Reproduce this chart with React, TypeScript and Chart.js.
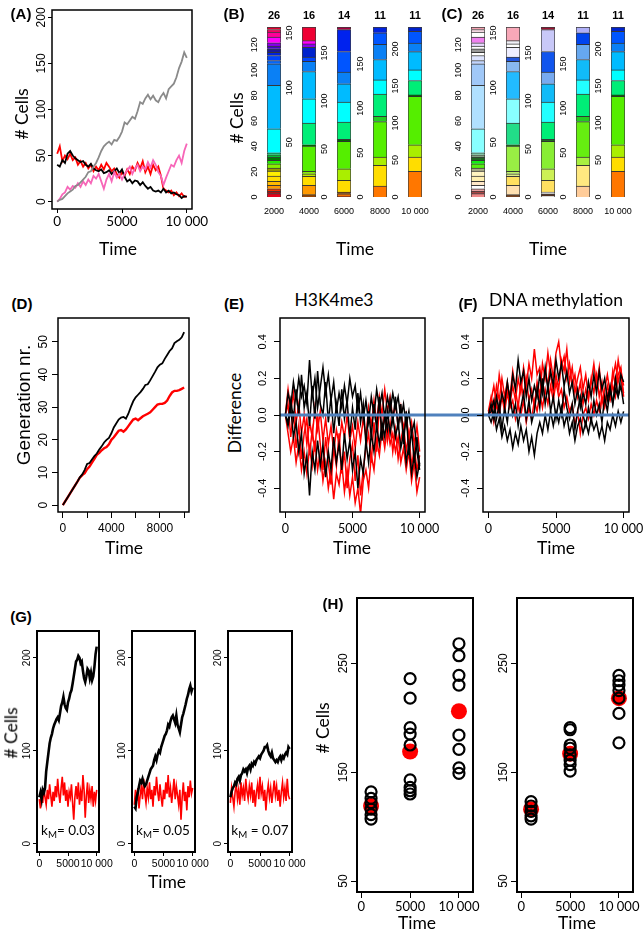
import React, { useEffect, useRef } from 'react';
import { Chart, registerables } from 'chart.js';
Chart.register(...registerables);

// ---------------- DATA ----------------
const TIME = [0, 200, 400, 600, 800, 1000, 1200, 1400, 1600, 1800,
  2000, 2200, 2400, 2600, 2800, 3000, 3200, 3400, 3600, 3800,
  4000, 4200, 4400, 4600, 4800, 5000, 5200, 5400, 5600, 5800,
  6000, 6200, 6400, 6600, 6800, 7000, 7200, 7400, 7600, 7800,
  8000, 8200, 8400, 8600, 8800, 9000, 9200, 9400, 9600, 9800,
  10000];

// (A) number of cells
const A_GRAY = [0, 2, 3, 6, 9, 11, 13, 17, 18, 21,
  24, 27, 32, 33, 38, 42, 48, 55, 60, 63,
  65, 62, 67, 66, 70, 76, 86, 84, 88, 92,
  90, 98, 108, 106, 112, 116, 111, 115, 110, 108,
  114, 118, 112, 122, 125, 128, 135, 145, 152, 162,
  156];
const A_PINK = [0, 3, 8, 10, 16, 13, 17, 15, 20, 16,
  22, 18, 24, 20, 28, 25, 30, 22, 14, 24,
  30, 22, 32, 26, 30, 24, 30, 34, 38, 30,
  36, 40, 33, 38, 35, 43, 37, 45, 40, 32,
  28, 18, 26, 33, 40, 38, 45, 50, 42, 55,
  63];
const A_BLACK = [40, 38, 45, 42, 52, 55, 50, 47, 45, 43,
  44, 40, 38, 41, 36, 34, 33, 35, 31, 32,
  34, 30, 33, 36, 31, 35, 27, 22, 24, 20,
  23, 22, 18, 21, 17, 14, 16, 12, 11, 12,
  10, 14, 10, 12, 9, 10, 8, 7, 4, 6,
  5];
const A_RED = [52, 60, 44, 50, 46, 52, 45, 48, 40, 44,
  38, 42, 36, 40, 33, 38, 34, 40, 35, 42,
  38, 33, 36, 30, 26, 32, 28, 35, 30, 38,
  34, 42, 36, 44, 32, 38, 30, 40, 34, 38,
  28, 14, 12, 10, 12, 7, 10, 6, 9, 5,
  6];

// (B)/(C) clone composition, bottom -> top
const BAR_TIMES = ['2000', '4000', '6000', '8000', '10 000'];
const BAR_COUNTS = ['26', '16', '14', '11', '11'];
const BAR1_VALS = [2.6, 2.1, 1.8, 2.7, 3.1, 4.2, 4.0, 2.3, 3.4, 2.7, 2.6, 1.8, 1.6, 18.9, 34.2, 17.0, 2.6, 3.9, 2.5, 2.8, 2.2, 2.5, 4.5, 4.0, 2.0, 2.0];
const BAR2_VALS = [2.1, 8.6, 8.2, 2.4, 2.2, 23.1, 1.2, 19.8, 22.2, 25.0, 9.2, 3.9, 9.1, 3.0, 3.0, 12.5];
const BAR3_VALS = [1, 2.4, 1.8, 12.1, 12.1, 28.5, 2.1, 18, 20.8, 19, 12.2, 21.5, 22.8, 2.7];
const BAR4_VALS = [12.4, 23.2, 9.4, 40, 5.8, 25.2, 16, 23, 17, 13, 6.6];
const BAR5_VALS = [34.7, 19.3, 16.6, 65.4, 2, 19.5, 14.3, 24.8, 11.4, 16, 5.8];
const BAR_YTICKS = [[0, 20, 40, 60, 80, 100, 120], [0, 50, 100, 150], [0, 50, 100, 150], [0, 50, 100, 150], [0, 50, 100, 150, 200]];

const B1_COLS = ['#e8001a', '#b01010', '#ff3300', '#ff9900', '#ffbb00', '#ffdd00', '#ffee00', '#999900', '#88ee00', '#22ee00', '#007700', '#00cc33', '#00e680', '#00ffff', '#00bbff', '#0a80f5', '#0066ff', '#0044ff', '#0022dd', '#1a1a99', '#4400cc', '#8800ee', '#ff00ff', '#ff0099', '#ff0066', '#e60033'];
const B2_COLS = ['#994400', '#ff9900', '#ffdd00', '#bbee00', '#88ee00', '#55ee00', '#006600', '#00ee77', '#00ffff', '#00bbff', '#0a80f5', '#0044ff', '#0022cc', '#8800ee', '#ff00ff', '#ee0033'];
const B3_COLS = ['#aa3300', '#ff7700', '#884400', '#ffdd00', '#aaee00', '#55ee00', '#006600', '#00ee77', '#00ffff', '#00bbff', '#0a80f5', '#0055ff', '#0022ee', '#aa0044'];
const B4_COLS = ['#ff7700', '#ffdd00', '#aaee00', '#55ee00', '#22cc22', '#00ee77', '#00ffff', '#00bbff', '#0a80f5', '#0055ff', '#0022dd'];
const B5_COLS = ['#ff7700', '#ffdd00', '#aaee00', '#55ee00', '#006600', '#00ee77', '#00ffff', '#00bbff', '#0a80f5', '#0055ff', '#0022cc'];

const C1_COLS = ['#f08888', '#aa4444', '#f4a8a8', '#ffffff', '#ffe8c8', '#fff0b0', '#fff4c0', '#aaaa88', '#55ee11', '#11ee11', '#226622', '#88aa88', '#88eebb', '#88ffff', '#b0e0ff', '#a0c8f8', '#c0d4ff', '#dde4ff', '#ffffff', '#999999', '#ffffff', '#e8d8ff', '#f080f0', '#ffffff', '#ffe0ec', '#f4a0b0'];
const C2_COLS = ['#774422', '#ffe0b0', '#ffe060', '#ddee88', '#bbf066', '#99ee44', '#226622', '#22dd88', '#88ffff', '#22bbff', '#88b8f0', '#2255dd', '#eeeeff', '#ffffff', '#f0f0f8', '#f8a8b8'];
const C3_COLS = ['#ffffff', '#553322', '#ffffff', '#ffe060', '#ccf055', '#88ee33', '#226622', '#00ee77', '#22ffff', '#11bbf8', '#77aaf0', '#1155ee', '#c8c8f8', '#991133'];
const C4_COLS = ['#ffcc99', '#ffe880', '#a8f040', '#66ee11', '#22cc22', '#00ee77', '#22ffff', '#11bbf8', '#66a8f0', '#0044ee', '#b0b0f8'];
const C5_COLS = B5_COLS;

// (D) generation number
const D_BLACK = [0, 1.2, 2.4, 3.6, 4.8, 6, 7.2, 8.5, 9.4, 10.8,
  12.6, 12.9, 14, 15, 15.8, 17, 18, 19.2, 20, 20.6,
  22, 23.8, 25, 26.2, 26.8, 27, 26.5, 28, 30, 31.8,
  33, 33.8, 34.6, 35.6, 36.8, 37, 38.2, 39.5, 40.8, 42.2,
  43, 43.4, 44.8, 46, 47.2, 48, 49.6, 50.2, 50.6, 51.4,
  53];
const D_RED = [0, 1.2, 2.4, 3.6, 4.8, 6, 7.2, 8.4, 9.2, 9.8,
  11, 11.8, 13, 14.2, 15.4, 16, 16.8, 17.4, 17.8, 18.6,
  20, 20.8, 21.8, 22.8, 23, 22.5, 23.2, 24.2, 25.2, 26.2,
  26.5, 26, 26.6, 27.2, 27.6, 28, 28.4, 29.2, 30, 30.8,
  31, 31, 31.3, 32, 33.4, 34.5, 35, 35, 35.2, 35.6,
  36];

// (E) H3K4me3 difference
const E_BLACK1 = [0, 0.12, 0.05, 0.18, 0.08, 0.2, 0.1, 0.16, 0.06, 0.3,
  0.1, 0.2, 0.04, 0.15, 0.26, 0.12, 0.22, 0.08, 0.18, 0.02,
  0.12, 0.04, 0.16, 0.06, 0.2, 0.1, 0.16, 0.02, 0.12, -0.02,
  0.08, -0.04, 0.1, 0, 0.14, 0.04, 0.12, -0.02, 0.1, 0.02,
  0.12, 0.04, 0.1, -0.02, 0.06, -0.06, 0.02, -0.1, -0.04, -0.2,
  -0.3];
const E_BLACK2 = [0, -0.06, 0.04, -0.12, -0.04, -0.2, -0.1, -0.32, -0.22, -0.44,
  -0.2, -0.3, -0.14, -0.28, -0.16, -0.34, -0.2, -0.3, -0.12, -0.26,
  -0.16, -0.3, -0.1, -0.24, -0.14, -0.3, -0.2, -0.4, -0.24, -0.32,
  -0.14, -0.26, -0.1, -0.2, -0.06, -0.16, -0.04, -0.12, 0.02, -0.1,
  0, -0.12, -0.04, -0.18, -0.1, -0.26, -0.16, -0.32, -0.22, -0.34,
  -0.26];
const E_BLACK3 = [0, -0.04, 0.08, -0.02, 0.14, 0, 0.22, 0.04, 0.12, -0.06,
  0.16, -0.02, 0.24, 0.06, 0, 0.18, -0.04, 0.1, -0.1, 0.06,
  -0.06, 0.14, -0.02, 0.08, -0.12, 0.04, -0.08, 0.12, -0.04, 0.06,
  -0.16, 0.02, -0.12, 0.06, -0.08, 0.1, -0.14, 0, -0.08, 0.08,
  -0.04, 0.1, -0.08, 0.06, -0.16, 0.02, -0.22, -0.08, -0.26, -0.12,
  -0.28];
const E_RED1 = [0, 0.14, 0.02, 0.12, -0.04, 0.06, -0.1, 0, -0.16, -0.04,
  -0.12, 0.04, -0.08, 0.02, -0.14, -0.02, -0.16, -0.06, -0.2, -0.08,
  -0.16, -0.04, -0.12, 0, -0.14, -0.06, -0.18, -0.04, -0.14, -0.02,
  -0.12, 0.04, -0.06, 0.08, -0.04, 0.1, 0, 0.14, 0.02, 0.1,
  -0.02, 0.06, -0.06, 0.04, -0.1, 0, -0.12, -0.04, -0.16, -0.06,
  -0.2];
const E_RED2 = [0, -0.1, -0.2, -0.12, -0.26, -0.16, -0.3, -0.2, -0.32, -0.18,
  -0.28, -0.14, -0.3, -0.2, -0.36, -0.26, -0.4, -0.3, -0.46, -0.32,
  -0.38, -0.26, -0.42, -0.3, -0.44, -0.34, -0.48, -0.4, -0.54, -0.36,
  -0.3, -0.4, -0.22, -0.3, -0.14, -0.22, -0.08, -0.18, -0.06, -0.16,
  -0.1, -0.2, -0.12, -0.26, -0.18, -0.3, -0.2, -0.36, -0.26, -0.42,
  -0.34];
const E_RED3 = [0, 0.06, -0.12, 0.02, -0.18, -0.06, -0.24, -0.1, -0.02, -0.22,
  -0.08, -0.2, 0, -0.16, -0.3, -0.12, -0.26, -0.38, -0.18, -0.28,
  -0.1, -0.32, -0.2, -0.4, -0.24, -0.16, -0.36, -0.22, -0.44, -0.3,
  -0.18, -0.1, -0.26, -0.04, -0.2, 0.06, -0.12, 0.02, -0.14, -0.04,
  -0.2, -0.08, -0.24, -0.14, -0.06, -0.2, -0.1, -0.28, -0.18, -0.3,
  -0.22];

// (F) DNA methylation difference
const F_BLACK1 = [0, 0.06, -0.02, 0.1, 0.02, 0.12, 0.06, 0.18, 0.08, 0.22,
  0.14, 0.3, 0.18, 0.24, 0.1, 0.2, 0.08, 0.16, 0.1, 0.22,
  0.12, 0.26, 0.14, 0.24, 0.16, 0.3, 0.2, 0.28, 0.16, 0.24,
  0.12, 0.18, 0.06, 0.14, 0.04, 0.12, 0.06, 0.18, 0.1, 0.22,
  0.12, 0.24, 0.14, 0.2, 0.08, 0.16, 0.06, 0.14, 0.1, 0.22,
  0.18];
const F_BLACK2 = [0, -0.04, 0.02, -0.08, -0.02, -0.12, -0.06, -0.14, -0.08, -0.18,
  -0.1, -0.16, -0.06, -0.14, -0.08, -0.2, -0.12, -0.22, -0.1, -0.04,
  -0.1, 0, -0.08, 0.02, -0.06, 0.02, -0.04, 0.04, -0.06, 0,
  -0.1, -0.04, -0.14, -0.06, -0.02, -0.1, -0.04, -0.1, -0.02, -0.08,
  -0.04, -0.12, -0.06, -0.14, -0.04, -0.08, 0, -0.06, 0.02, -0.04,
  0.02];
const F_BLACK3 = [0, 0.02, 0.08, -0.02, 0.06, -0.08, 0.04, -0.04, 0.1, 0,
  0.06, -0.06, 0.04, 0.12, -0.02, 0.08, -0.04, 0.02, 0.14, 0.04,
  0.2, 0.06, 0.16, 0.02, 0.1, -0.02, 0.08, 0, 0.14, 0.04,
  -0.02, 0.06, -0.08, 0.02, 0.1, 0, -0.06, 0.04, -0.04, 0.08,
  0, 0.06, -0.04, 0.1, 0.02, 0.14, 0.06, 0.2, 0.1, 0.16,
  0.06];
const F_RED1 = [0.02, 0.1, 0.04, 0.16, 0.08, 0.2, 0.1, 0.18, 0.06, 0.16,
  0.08, 0.2, 0.12, 0.26, 0.16, 0.28, 0.2, 0.36, 0.22, 0.26,
  0.14, 0.24, 0.16, 0.3, 0.2, 0.34, 0.4, 0.26, 0.32, 0.2,
  0.28, 0.16, 0.22, 0.1, 0.18, 0.06, 0.14, 0.08, 0.2, 0.12,
  0.22, 0.1, 0.18, 0.06, 0.16, 0.1, 0.24, 0.16, 0.3, 0.2,
  0.12];
const F_RED2 = [0, 0.04, -0.04, 0.06, 0, 0.1, 0.02, 0.12, 0.04, 0.08,
  -0.02, 0.06, 0, 0.08, -0.04, 0.04, -0.02, 0.08, 0.02, 0.12,
  0.04, 0.14, 0.06, 0.16, 0.08, 0.18, 0.1, 0.14, 0.04, 0.1,
  0.02, 0.06, -0.06, 0.02, -0.1, 0, 0.04, -0.02, 0.06, 0,
  0.08, 0.02, 0.1, 0.04, 0.12, 0.08, 0.16, 0.1, 0.22, 0.26,
  0.1];
const F_RED3 = [0, 0.08, 0.16, 0.06, 0.22, 0.12, 0.04, 0.16, 0.1, 0.24,
  0.14, 0.04, 0.18, 0.1, 0.2, 0.08, 0.14, 0.04, 0.18, 0.1,
  0.28, 0.2, 0.34, 0.22, 0.12, 0.22, 0.14, 0.3, 0.24, 0.36,
  0.18, 0.26, 0.12, 0.2, 0.26, 0.14, 0.22, 0.1, 0.18, 0.28,
  0.16, 0.26, 0.06, 0.14, 0.22, 0.12, 0.2, 0.28, 0.18, 0.24,
  0.16];

// (G) cells for three k_M values
const K_M = ['0.03', '0.05', '0.07'];
const G1_BLACK = [50, 55, 48, 58, 55, 60, 78, 88, 98, 108,
  114, 118, 124, 128, 131, 134, 136, 133, 140, 148,
  152, 158, 150, 146, 144, 152, 156, 162, 165, 172,
  180, 188, 196, 198, 202, 200, 194, 196, 186, 178,
  174, 180, 188, 186, 178, 184, 176, 180, 190, 204,
  212];
const G1_RED = [48, 38, 55, 44, 60, 50, 42, 58, 48, 64,
  52, 40, 56, 46, 62, 50, 70, 54, 44, 60,
  72, 52, 66, 46, 58, 40, 56, 50, 64, 44,
  26, 50, 62, 48, 66, 42, 56, 46, 74, 58,
  28, 52, 66, 44, 58, 48, 62, 40, 56, 46,
  58];
const G2_BLACK = [40, 38, 50, 55, 62, 68, 66, 70, 65, 62,
  64, 68, 72, 76, 80, 82, 84, 90, 94, 90,
  96, 100, 98, 104, 108, 112, 116, 118, 122, 128,
  126, 132, 136, 138, 134, 130, 138, 128, 124, 120,
  128, 136, 140, 145, 150, 156, 160, 166, 170, 164,
  168];
const G2_RED = [42, 58, 46, 60, 38, 52, 62, 48, 70, 54,
  44, 60, 50, 66, 48, 58, 40, 62, 52, 72,
  56, 46, 64, 50, 40, 58, 48, 66, 54, 74,
  50, 60, 44, 56, 70, 48, 62, 52, 42, 58,
  26, 50, 66, 46, 56, 36, 62, 50, 68, 54,
  60];
const G3_BLACK = [50, 56, 60, 62, 66, 64, 70, 72, 68, 74,
  76, 80, 78, 80, 76, 82, 84, 80, 86, 84,
  88, 86, 90, 92, 94, 92, 96, 98, 100, 104,
  104, 106, 100, 96, 94, 98, 92, 90, 88, 90,
  88, 92, 94, 90, 94, 92, 96, 98, 96, 104,
  102];
const G3_RED = [44, 60, 50, 40, 56, 64, 48, 58, 42, 66,
  52, 60, 46, 70, 56, 48, 62, 52, 66, 44,
  58, 40, 56, 64, 48, 72, 54, 62, 46, 58,
  36, 54, 64, 50, 60, 44, 56, 68, 52, 62,
  46, 58, 40, 56, 66, 50, 60, 46, 70, 52,
  48];

// (H) replicate cell counts and means
const H_TIMES = [1000, 5000, 10000];
const H1_REPS = [
  [132, 126, 122, 116, 111, 107],
  [236, 218, 191, 185, 175, 143, 136, 133, 130],
  [268, 257, 239, 230, 184, 171, 154, 149],
];
const H1_MEAN = [119, 169, 206];
const H2_REPS = [
  [123, 119, 114, 110, 107],
  [191, 189, 175, 172, 166, 161, 157, 151],
  [239, 234, 230, 225, 218, 204, 177],
];
const H2_MEAN = [116, 167, 218];

// ---------------- HELPERS ----------------
const SANS = '"Liberation Sans", Arial, Helvetica, sans-serif';
const HUM = 'Lato, "Open Sans", sans-serif';

const fmt10k = (v: number) => (v === 10000 ? '10 000' : String(v));
const fmtD = (v: number) => (v % 4000 === 0 ? String(v) : '');
const fmt1 = (v: number) => v.toFixed(1);
const fmtInt = (v: number) => String(v);

type Frame = [number, number, number, number];
type Pad = { l: number; t: number; r: number; b: number };

interface RStyle {
  box?: number;
  yOff?: number;
  yFont?: string;
  yFmt?: (v: number) => string;
  hline?: { value: number; color: string; width: number; toEdge?: boolean };
}

function rPlugin(o: RStyle) {
  return {
    id: 'rstyle',
    afterDatasetsDraw(chart: any) {
      if (!o.hline) return;
      const { ctx, chartArea } = chart;
      const y = chart.scales.y.getPixelForValue(o.hline.value);
      ctx.save();
      ctx.strokeStyle = o.hline.color;
      ctx.lineWidth = o.hline.width;
      ctx.beginPath();
      ctx.moveTo(chartArea.left, y);
      ctx.lineTo(o.hline.toEdge ? chart.width : chartArea.right, y);
      ctx.stroke();
      ctx.restore();
    },
    afterDraw(chart: any) {
      const { ctx, chartArea } = chart;
      ctx.save();
      if (o.box) {
        ctx.strokeStyle = '#000';
        ctx.lineWidth = o.box;
        ctx.strokeRect(chartArea.left, chartArea.top, chartArea.right - chartArea.left, chartArea.bottom - chartArea.top);
      }
      if (o.yOff !== undefined) {
        const sc = chart.scales.y;
        ctx.fillStyle = '#000';
        ctx.font = o.yFont || `11px ${SANS}`;
        ctx.textAlign = 'center';
        ctx.textBaseline = 'middle';
        for (const t of sc.ticks) {
          const y = sc.getPixelForValue(t.value);
          ctx.save();
          ctx.translate(chartArea.left - o.yOff, y);
          ctx.rotate(-Math.PI / 2);
          ctx.fillText(o.yFmt ? o.yFmt(t.value) : String(t.value), 0, 0);
          ctx.restore();
        }
      }
      ctx.restore();
    },
  };
}

function linScale(min: number, max: number, ticks: number[], tl: number, show: boolean, pad: number, font: any, fmt: (v: number) => string) {
  return {
    type: 'linear',
    min,
    max,
    afterBuildTicks: (s: any) => { s.ticks = ticks.map((v) => ({ value: v })); },
    grid: { display: tl > 0, drawOnChartArea: false, drawTicks: tl > 0, tickLength: tl, color: '#000', lineWidth: 1 },
    border: { display: false },
    ticks: { display: show, padding: pad, font, color: '#000', autoSkip: false, maxRotation: 0, minRotation: 0, callback: (v: any) => fmt(Number(v)) },
  };
}

interface Spec { box: { left: number; top: number; width: number; height: number }; make: () => any }

function spec(frame: Frame, pad: Pad, makeInner: () => { type: string; data: any; scales: any; r: RStyle }): Spec {
  const [x0, y0, x1, y1] = frame;
  const box = { left: x0 - pad.l, top: y0 - pad.t, width: x1 - x0 + pad.l + pad.r, height: y1 - y0 + pad.t + pad.b };
  const make = () => {
    const inner = makeInner();
    const scales = inner.scales;
    scales.x.afterFit = (s: any) => { s.height = pad.b; s.paddingLeft = 0; s.paddingRight = 0; s.paddingTop = 0; s.paddingBottom = 0; };
    scales.y.afterFit = (s: any) => { s.width = pad.l; s.paddingLeft = 0; s.paddingRight = 0; s.paddingTop = 0; s.paddingBottom = 0; };
    return {
      type: inner.type,
      data: inner.data,
      options: {
        responsive: false,
        maintainAspectRatio: false,
        animation: false,
        devicePixelRatio: 1,
        events: [],
        layout: { padding: { left: 0, top: pad.t, right: pad.r, bottom: 0 } },
        plugins: { legend: { display: false }, tooltip: { enabled: false }, title: { display: false } },
        scales,
      },
      plugins: [rPlugin(inner.r)],
    };
  };
  return { box, make };
}

const toXY = (ys: number[]) => TIME.map((t, i) => ({ x: t, y: ys[i] }));
const lineDs = (ys: number[], color: string, w: number) => ({
  data: toXY(ys), borderColor: color, borderWidth: w, pointRadius: 0, tension: 0, fill: false,
});

function timeLineSpec(frame: Frame, pad: Pad, yr: [number, number], yt: number[], opts: {
  xTl: number; xPad: number; xFont: any; xFmt: (v: number) => string; xTicks: number[];
  yTl: number; yOff: number; yFont: string; yFmt: (v: number) => string; box: number;
  hline?: RStyle['hline']; series: { y: number[]; c: string; w: number }[];
}): Spec {
  return spec(frame, pad, () => ({
    type: 'line',
    data: { datasets: opts.series.map((s) => lineDs(s.y, s.c, s.w)) },
    scales: {
      x: linScale(-400, 10400, opts.xTicks, opts.xTl, true, opts.xPad, opts.xFont, opts.xFmt),
      y: linScale(yr[0], yr[1], yt, opts.yTl, false, 0, undefined, opts.yFmt),
    },
    r: { box: opts.box, yOff: opts.yOff, yFont: opts.yFont, yFmt: opts.yFmt, hline: opts.hline },
  }));
}

function barSpec(left: number, vals: number[], cols: string[], label: string, yTicks: number[]): Spec {
  const total = vals.reduce((a, b) => a + b, 0);
  return spec([left, 27, left + 14, 197], { l: 20, t: 4, r: 14, b: 24 }, () => ({
    type: 'bar',
    data: {
      labels: [label],
      datasets: vals.map((v, i) => ({
        data: [v], backgroundColor: cols[i], borderColor: 'rgba(25,25,25,0.85)', borderWidth: 1,
        borderSkipped: 'start', barPercentage: 1, categoryPercentage: 1,
      })),
    },
    scales: {
      x: {
        type: 'category', stacked: true, offset: true,
        grid: { display: false, drawTicks: false, tickLength: 0 }, border: { display: false },
        ticks: { display: true, padding: 9, font: { family: SANS, size: 9 }, color: '#000', autoSkip: false, maxRotation: 0, minRotation: 0 },
      },
      y: { ...linScale(0, total, yTicks, 0, false, 0, undefined, fmtInt), stacked: true },
    },
    r: { yOff: 12, yFont: `9px ${SANS}`, yFmt: fmtInt },
  }));
}

function hSpec(frame: Frame, pad: Pad, reps: number[][], means: number[]): Spec {
  return spec(frame, pad, () => ({
    type: 'scatter',
    data: {
      datasets: [
        {
          data: reps.flatMap((arr, i) => arr.map((v) => ({ x: H_TIMES[i], y: v }))),
          pointRadius: 5.5, pointBorderWidth: 2.2, pointBackgroundColor: 'rgba(0,0,0,0)', pointBorderColor: '#000', showLine: false,
        },
        {
          data: means.map((v, i) => ({ x: H_TIMES[i], y: v })),
          pointRadius: 8, pointBorderWidth: 0, pointBackgroundColor: '#ff0000', pointBorderColor: '#ff0000', showLine: false,
        },
      ],
    },
    scales: {
      x: linScale(-440, 11440, [0, 5000, 10000], 6, true, 1, { family: HUM, size: 13 }, fmt10k),
      y: linScale(40, 310, [50, 150, 250], 6, false, 0, undefined, fmtInt),
    },
    r: { box: 2, yOff: 13.5, yFont: `12px ${SANS}`, yFmt: fmtInt },
  }));
}

const X10K = [0, 5000, 10000];
const XD = [0, 2000, 4000, 6000, 8000, 10000];
const YEF = [-0.4, -0.2, 0, 0.2, 0.4];
const BLUE = '#4f81bd';

function gSpec(frame: Frame, black: number[], red: number[]): Spec {
  return timeLineSpec(frame, { l: 20, t: 4, r: 16, b: 22 }, [-8.8, 228.8], [0, 100, 200], {
    xTl: 4, xPad: 2, xFont: { family: SANS, size: 10.5 }, xFmt: fmt10k, xTicks: X10K,
    yTl: 4, yOff: 10, yFont: `10px ${SANS}`, yFmt: fmtInt, box: 2,
    series: [{ y: black, c: '#000', w: 2.6 }, { y: red, c: '#ff0000', w: 1.6 }],
  });
}

const BAR_VALS = [BAR1_VALS, BAR2_VALS, BAR3_VALS, BAR4_VALS, BAR5_VALS];
const B_COLS = [B1_COLS, B2_COLS, B3_COLS, B4_COLS, B5_COLS];
const C_COLS = [C1_COLS, C2_COLS, C3_COLS, C4_COLS, C5_COLS];
const B_LEFTS = [267, 302, 337, 373, 408];
const C_LEFTS = [471, 506, 541, 576, 611];
const EFW = 1.5;

const SPECS: Spec[] = [
  // A
  timeLineSpec([52, 10, 192, 209], { l: 30, t: 4, r: 22, b: 30 }, [-8, 208], [0, 50, 100, 150, 200], {
    xTl: 4, xPad: 1, xFont: { family: HUM, size: 13.5 }, xFmt: fmt10k, xTicks: X10K,
    yTl: 4, yOff: 10, yFont: `12px ${SANS}`, yFmt: fmtInt, box: 1.5,
    series: [
      { y: A_GRAY, c: '#8a8a8a', w: 1.8 },
      { y: A_PINK, c: '#f766b8', w: 1.8 },
      { y: A_BLACK, c: '#000000', w: 1.8 },
      { y: A_RED, c: '#ff0000', w: 1.8 },
    ],
  }),
  // B and C
  ...BAR_VALS.map((v, i) => barSpec(B_LEFTS[i], v, B_COLS[i], BAR_TIMES[i], BAR_YTICKS[i])),
  ...BAR_VALS.map((v, i) => barSpec(C_LEFTS[i], v, C_COLS[i], BAR_TIMES[i], BAR_YTICKS[i])),
  // D
  timeLineSpec([58, 318, 189, 512], { l: 30, t: 4, r: 22, b: 30 }, [-2.1, 57.3], [0, 10, 20, 30, 40, 50], {
    xTl: 6, xPad: 3, xFont: { family: SANS, size: 12 }, xFmt: fmtD, xTicks: XD,
    yTl: 6, yOff: 14, yFont: `12px ${SANS}`, yFmt: fmtInt, box: 1.5,
    series: [{ y: D_BLACK, c: '#000', w: 1.8 }, { y: D_RED, c: '#ff0000', w: 2.4 }],
  }),
  // E
  timeLineSpec([280, 318, 425, 512], { l: 30, t: 4, r: 58, b: 30 }, [-0.53, 0.53], YEF, {
    xTl: 6, xPad: 3, xFont: { family: HUM, size: 12.5 }, xFmt: fmt10k, xTicks: X10K,
    yTl: 6, yOff: 17, yFont: `11px ${SANS}`, yFmt: fmt1, box: 1.5,
    hline: { value: 0, color: BLUE, width: 3, toEdge: true },
    series: [
      { y: E_BLACK1, c: '#000', w: EFW }, { y: E_BLACK2, c: '#000', w: EFW }, { y: E_BLACK3, c: '#000', w: EFW },
      { y: E_RED1, c: '#ff0000', w: EFW }, { y: E_RED2, c: '#ff0000', w: EFW }, { y: E_RED3, c: '#ff0000', w: EFW },
    ],
  }),
  // F
  timeLineSpec([483, 318, 629, 512], { l: 30, t: 4, r: 15, b: 30 }, [-0.53, 0.53], YEF, {
    xTl: 6, xPad: 3, xFont: { family: HUM, size: 12.5 }, xFmt: fmt10k, xTicks: X10K,
    yTl: 6, yOff: 17, yFont: `11px ${SANS}`, yFmt: fmt1, box: 1.5,
    hline: { value: 0, color: BLUE, width: 3 },
    series: [
      { y: F_BLACK1, c: '#000', w: EFW }, { y: F_BLACK2, c: '#000', w: EFW }, { y: F_BLACK3, c: '#000', w: EFW },
      { y: F_RED1, c: '#ff0000', w: EFW }, { y: F_RED2, c: '#ff0000', w: EFW }, { y: F_RED3, c: '#ff0000', w: EFW },
    ],
  }),
  // G
  gSpec([37, 631, 99, 852], G1_BLACK, G1_RED),
  gSpec([132, 631, 195, 852], G2_BLACK, G2_RED),
  gSpec([228, 631, 292, 852], G3_BLACK, G3_RED),
  // H
  hSpec([357, 594, 473, 892], { l: 24, t: 4, r: 22, b: 26 }, H1_REPS, H1_MEAN),
  hSpec([517, 594, 633, 892], { l: 24, t: 4, r: 11, b: 26 }, H2_REPS, H2_MEAN),
];

// ---------------- TEXT ----------------
interface Lbl { x: number; y: number; t: React.ReactNode; size: number; fam?: string; bold?: boolean; rot?: boolean }
const L = (x: number, y: number, t: React.ReactNode, size: number, fam = HUM, bold = false, rot = false): Lbl => ({ x, y, t, size, fam, bold, rot });
const km = (v: string, sp: string) => (<span>k<sub style={{ fontSize: '0.72em', verticalAlign: '-0.25em' }}>M</sub>{sp}= {v}</span>);

const LABELS: Lbl[] = [
  L(21, 13, '(A)', 15, SANS, true),
  L(234, 13, '(B)', 15, SANS, true),
  L(452, 13, '(C)', 15, SANS, true),
  L(22, 303, '(D)', 15, SANS, true),
  L(234, 303, '(E)', 15, SANS, true),
  L(468, 303, '(F)', 15, SANS, true),
  L(21, 616, '(G)', 15, SANS, true),
  L(333, 603, '(H)', 15, SANS, true),
  L(22, 114, '# Cells', 17.5, HUM, false, true),
  L(118, 249, 'Time', 17.5),
  L(237, 118, '# Cells', 17.5, HUM, false, true),
  L(355, 249, 'Time', 17.5),
  L(548, 249, 'Time', 17.5),
  ...BAR_COUNTS.map((c, i) => L(B_LEFTS[i] + 7, 15, c, 11, SANS, true)),
  ...BAR_COUNTS.map((c, i) => L(C_LEFTS[i] + 7, 15, c, 11, SANS, true)),
  L(23, 405, 'Generation nr.', 19, SANS, false, true),
  L(124, 548, 'Time', 17.5),
  L(235, 413, 'Difference', 17.5, HUM, false, true),
  L(334, 300, 'H3K4me3', 17.5),
  L(556, 300, 'DNA methylation', 17.5),
  L(352, 548, 'Time', 17.5),
  L(556, 548, 'Time', 17.5),
  L(11, 733, '# Cells', 17.5, HUM, false, true),
  L(167, 882, 'Time', 17.5),
  L(68, 832, km(K_M[0], ''), 13.5),
  L(163, 832, km(K_M[1], ''), 13.5),
  L(260, 832, km(K_M[2], ' '), 13.5),
  L(323, 728, '# Cells', 17.5, HUM, false, true),
  L(417, 923, 'Time', 17.5),
  L(577, 923, 'Time', 17.5),
];

// ---------------- COMPONENTS ----------------
function ChartBox({ s }: { s: Spec }) {
  const ref = useRef<HTMLCanvasElement>(null);
  useEffect(() => {
    const chart = new Chart(ref.current as HTMLCanvasElement, s.make());
    return () => chart.destroy();
  }, [s]);
  const { left, top, width, height } = s.box;
  return (
    <canvas ref={ref} width={width} height={height}
      style={{ position: 'absolute', left, top, width, height }} />
  );
}

export default function App() {
  return (
    <div style={{ position: 'absolute', left: 0, top: 0, width: 644, height: 936, overflow: 'hidden', background: '#fff' }}>
      {SPECS.map((s, i) => <ChartBox key={i} s={s} />)}
      {LABELS.map((l, i) => (
        <div key={'l' + i} style={{
          position: 'absolute', left: l.x, top: l.y,
          transform: `translate(-50%, -50%)${l.rot ? ' rotate(-90deg)' : ''}`,
          fontFamily: l.fam, fontSize: l.size, fontWeight: l.bold ? 700 : 400,
          whiteSpace: 'nowrap', lineHeight: 1, color: '#000',
        }}>{l.t}</div>
      ))}
    </div>
  );
}
